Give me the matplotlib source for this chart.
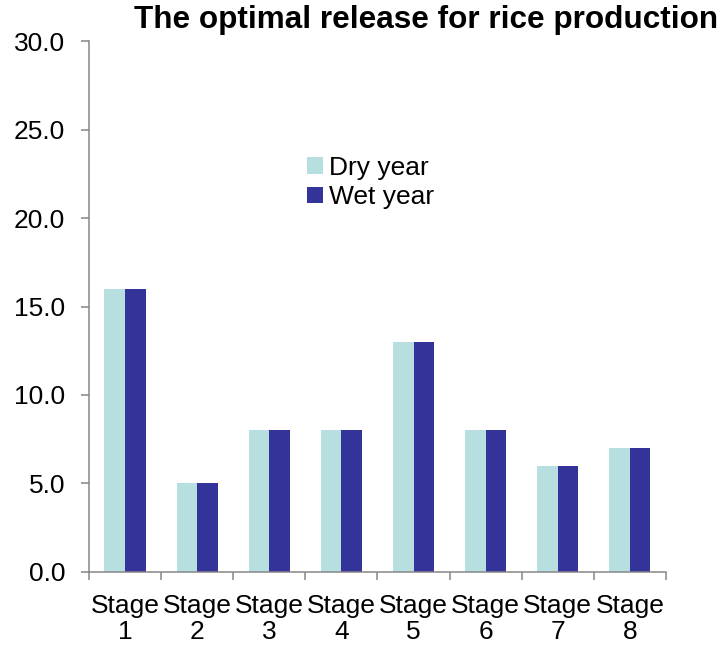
import numpy as np
import matplotlib
matplotlib.use('Agg')
import matplotlib.pyplot as plt
from matplotlib.ticker import FormatStrFormatter, FixedLocator

plt.rcParams['font.family'] = ['Liberation Sans', 'DejaVu Sans']

# Optimal release per growth stage
stages = ['Stage\n1', 'Stage\n2', 'Stage\n3', 'Stage\n4',
          'Stage\n5', 'Stage\n6', 'Stage\n7', 'Stage\n8']
dry_year = [16, 5, 8, 8, 13, 8, 6, 7]
wet_year = [16, 5, 8, 8, 13, 8, 6, 7]

fig = plt.figure(figsize=(7.27, 6.45), dpi=100)
ax = fig.add_axes([0.1224, 0.1132, 0.7936, 0.8232])

x = np.arange(len(stages))
w = 0.2857
ax.bar(x - w / 2, dry_year, width=w, color='#B7DFE0', label='Dry year')
ax.bar(x + w / 2, wet_year, width=w, color='#333399', label='Wet year')

ax.set_xlim(-0.5, len(stages) - 0.5)
ax.set_ylim(0, 30)
ax.set_yticks(np.arange(0, 31, 5))
ax.yaxis.set_major_formatter(FormatStrFormatter('%.1f'))

ax.set_xticks(x)
ax.set_xticklabels(stages, linespacing=1.08)
ax.xaxis.set_minor_locator(FixedLocator(np.arange(-0.5, len(stages), 1.0)))
ax.tick_params(axis='x', which='major', length=0, pad=16, labelsize=19)
ax.tick_params(axis='x', which='minor', length=6, width=1.1, color='#868686')
ax.tick_params(axis='y', length=6, width=1.1, color='#868686', labelsize=19, pad=11)

for side in ['top', 'right']:
    ax.spines[side].set_visible(False)
for side in ['left', 'bottom']:
    ax.spines[side].set_color('#868686')
    ax.spines[side].set_linewidth(1.1)

ax.legend(loc='upper left', bbox_to_anchor=(307 / 727, 1 - 156 / 645),
          bbox_transform=fig.transFigure, frameon=False, fontsize=19,
          handlelength=0.6, handleheight=0.6, handletextpad=0.25,
          labelspacing=0.2, borderpad=0, borderaxespad=0)

fig.text(426 / 727, 1 - 28 / 645, 'The optimal release for rice production',
         ha='center', va='baseline', fontsize=22.7, fontweight='bold')

fig.savefig('out.png', dpi=100)
